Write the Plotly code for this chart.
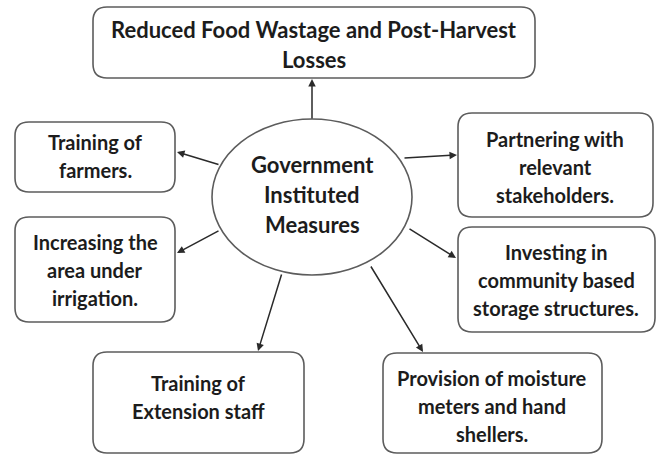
import plotly.graph_objects as go

# ---- content ----
center_label = ["Government", "Instituted", "Measures"]
outcome_label = ["Reduced Food Wastage and Post-Harvest", "Losses"]
measure_labels = [
    ["Training of", "farmers."],
    ["Increasing the", "area under", "irrigation."],
    ["Training of", "Extension staff"],
    ["Partnering with", "relevant", "stakeholders."],
    ["Investing in", "community based", "storage structures."],
    ["Provision of moisture", "meters and hand", "shellers."],
]

# ---- layout geometry (pixels, origin top-left) ----
W, H = 660, 454
ellipse = dict(cx=312, cy=197, rx=100, ry=78)
outcome_box = (93, 7, 535, 78)
measure_boxes = [
    (15, 122, 175, 192),
    (15, 217, 175, 322),
    (93, 352, 304, 453),
    (458, 113, 653, 217),
    (458, 227, 655, 332),
    (383, 353, 602, 453),
]
# arrows: (start_x, start_y, tip_x, tip_y)
outcome_arrow = (312, 120, 312, 79)
measure_arrows = [
    (220, 165, 177, 152),
    (220, 230, 177, 253),
    (282, 273, 258, 351),
    (403, 158, 457, 155),
    (408, 228, 456, 258),
    (370, 265, 423, 352),
]

FONT = "Lato"
TEXT_COLOR = "#1c1c1c"
BOX_COLOR = "#5c5c5c"
ARROW_COLOR = "#2a2a2a"


def rounded_rect(x0, y0, x1, y1, r=14):
    return (f"M {x0+r},{y0} L {x1-r},{y0} Q {x1},{y0} {x1},{y0+r} "
            f"L {x1},{y1-r} Q {x1},{y1} {x1-r},{y1} L {x0+r},{y1} "
            f"Q {x0},{y1} {x0},{y1-r} L {x0},{y0+r} Q {x0},{y0} {x0+r},{y0} Z")


fig = go.Figure()
fig.add_trace(go.Scatter(x=[0, W], y=[0, H], mode="markers",
                         marker=dict(opacity=0), hoverinfo="skip", showlegend=False))

shapes = []
annotations = []

# boxes
for (x0, y0, x1, y1) in [outcome_box] + measure_boxes:
    shapes.append(dict(type="path", path=rounded_rect(x0, y0, x1, y1),
                       xref="x", yref="y", line=dict(color=BOX_COLOR, width=1.6),
                       fillcolor="white"))

# ellipse
shapes.append(dict(type="circle", xref="x", yref="y",
                   x0=ellipse["cx"] - ellipse["rx"], x1=ellipse["cx"] + ellipse["rx"],
                   y0=ellipse["cy"] - ellipse["ry"], y1=ellipse["cy"] + ellipse["ry"],
                   line=dict(color=BOX_COLOR, width=1.6), fillcolor="white"))

# arrows
for (sx, sy, tx, ty) in [outcome_arrow] + measure_arrows:
    annotations.append(dict(x=tx, y=ty, ax=sx, ay=sy, xref="x", yref="y",
                            axref="x", ayref="y", text="", showarrow=True,
                            arrowhead=2, arrowsize=1.0, arrowwidth=1.5,
                            arrowcolor=ARROW_COLOR, standoff=0, startstandoff=0))


def add_text(lines, cx, cy, size, spacing):
    n = len(lines)
    for i, line in enumerate(lines):
        y = cy + (i - (n - 1) / 2) * spacing
        annotations.append(dict(x=cx, y=y, xref="x", yref="y", text=f"<b>{line}</b>",
                                showarrow=False, xanchor="center", yanchor="middle",
                                font=dict(family=FONT, size=size, color=TEXT_COLOR)))


# outcome text
x0, y0, x1, y1 = outcome_box
add_text(outcome_label, (x0 + x1) / 2, 44, 22, 30)

# measure texts
measure_text_centers = [
    (95, 156), (95, 270), (198, 397), (555, 167), (556, 280), (492, 406)
]
for lines, (cx, cy) in zip(measure_labels, measure_text_centers):
    add_text(lines, cx, cy, 20, 28)

# center text
add_text(center_label, ellipse["cx"], 194, 22, 30)

fig.update_layout(
    width=W, height=H, margin=dict(l=0, r=0, t=0, b=0),
    paper_bgcolor="white", plot_bgcolor="white",
    xaxis=dict(range=[0, W], visible=False, fixedrange=True),
    yaxis=dict(range=[H, 0], visible=False, fixedrange=True),
    shapes=shapes, annotations=annotations, showlegend=False,
)

fig.write_html("out.html", config={"displayModeBar": False},
               post_script="document.body.style.margin='0';document.body.style.overflow='hidden';")
